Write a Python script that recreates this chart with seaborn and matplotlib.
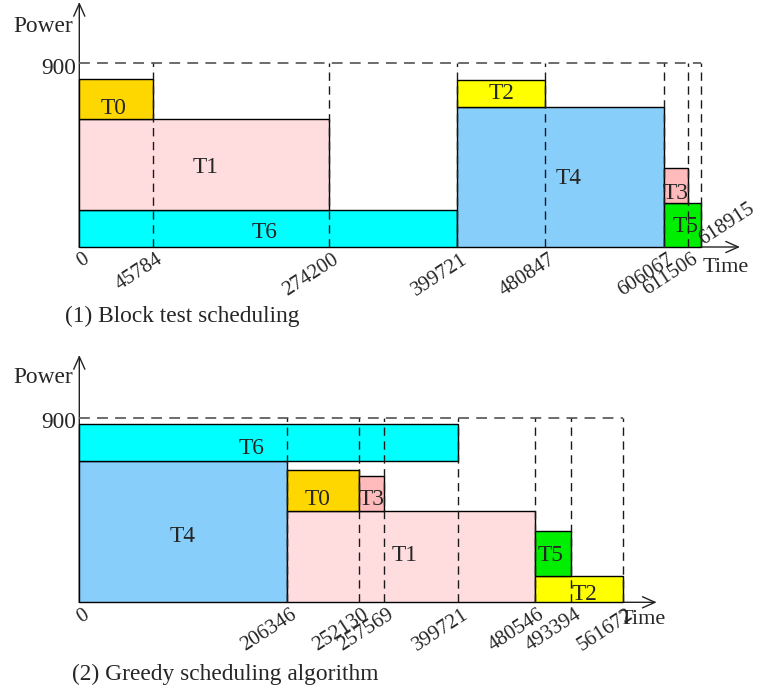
import numpy as np
import matplotlib
matplotlib.use("Agg")
import matplotlib.pyplot as plt
from matplotlib.transforms import offset_copy
import seaborn as sns

# ---------------- schedule data ----------------
power_limit = 900

# (1) block test scheduling
tasks_block = ["T6", "T1", "T0", "T4", "T2", "T5", "T3"]
start_block = [0, 0, 0, 399721, 399721, 606067, 606067]
end_block = [399721, 274200, 45784, 606067, 480847, 618915, 611506]
base_block = [0, 180, 625, 0, 687, 0, 217]
power_block = [180, 445, 200, 687, 130, 217, 170]
ticks_block = [0, 45784, 274200, 399721, 480847, 606067, 611506, 618915]

# (2) greedy scheduling algorithm
tasks_greedy = ["T4", "T6", "T1", "T0", "T3", "T2", "T5"]
start_greedy = [0, 0, 206346, 206346, 252130, 480546, 480546]
end_greedy = [206346, 399721, 480546, 252130, 257569, 561672, 493394]
base_greedy = [0, 687, 0, 445, 445, 0, 130]
power_greedy = [687, 180, 445, 200, 170, 130, 217]
ticks_greedy = [0, 206346, 252130, 257569, 399721, 480546, 493394, 561672]

# ---------------- styling ----------------
task_colors = {
    "T0": "#FFD700",
    "T1": "#FFDDDF",
    "T2": "#FFFF00",
    "T3": "#FFBBBB",
    "T4": "#87CEFA",
    "T5": "#00EE00",
    "T6": "#00FFFF",
}

sns.set_theme(style="white")
plt.rcParams["font.family"] = ["Liberation Serif", "DejaVu Serif"]

W, H = 757, 689
fig = plt.figure(figsize=(W / 100, H / 100), dpi=100)
fig.patch.set_facecolor("white")

BIG = 16.8
SMALL = 15.0

# schematic (piecewise) time axis: where each tick sits horizontally, in pixels
tick_px_block = [79.3, 152.7, 329.3, 457.3, 545.3, 663.7, 688.3, 700.7]
tick_px_greedy = [79.3, 286.7, 359.3, 383.7, 458.3, 534.7, 571.3, 623.0]

# label nudges in pixels (dx right, dy down)
nudge_block = {"T0": (-2, 7), "T1": (1.5, 1), "T6": (-4, 1.5), "T4": (8.5, 0),
               "T2": (0, -2), "T3": (0, 6), "T5": (3.5, 0)}
nudge_greedy = {"T6": (-17, 3), "T4": (0, 3), "T0": (-5, 7), "T3": (0, 4),
                "T1": (-6, -3), "T5": (-2.5, 0), "T2": (6, 3.5)}

DASH = (0, (6, 4))


def draw_panel(ax, tasks, start, end, base, power, ticks, tick_px,
               nudges, base_px, top_px, arrow_x_px, arrow_y_px, last_up):
    t_arr = np.asarray(ticks, float)
    p_arr = np.asarray(tick_px, float)

    def forward(t):
        return np.interp(t, t_arr, p_arr)

    def inverse(p):
        return np.interp(p, p_arr, t_arr)

    ax.set_xscale("function", functions=(forward, inverse))
    ax.set_xlim(ticks[0], ticks[-1])
    ax.set_ylim(0, power_limit)
    ax.set_axis_off()

    # axis arrows
    x_span = tick_px[-1] - tick_px[0]
    y_span = base_px - top_px
    arrow_kw = dict(arrowstyle="->,head_length=0.45,head_width=0.2",
                    mutation_scale=20, lw=1.0, color="#222222",
                    shrinkA=0, shrinkB=0)
    ax.annotate("", xy=((arrow_x_px - tick_px[0]) / x_span, 0),
                xytext=(0, 0), xycoords="axes fraction",
                textcoords="axes fraction", arrowprops=arrow_kw,
                annotation_clip=False, zorder=1)
    ax.annotate("", xy=(0, (base_px - arrow_y_px) / y_span),
                xytext=(0, 0), xycoords="axes fraction",
                textcoords="axes fraction", arrowprops=arrow_kw,
                annotation_clip=False, zorder=1)

    # task blocks
    widths = [e - s for s, e in zip(start, end)]
    bars = ax.bar(start, power, width=widths, bottom=base, align="edge",
                  color=[task_colors[t] for t in tasks], edgecolor="black",
                  linewidth=1.0, zorder=2)
    for patch in bars:
        patch.set_clip_on(False)

    # power limit and time markers
    ax.hlines(power_limit, ticks[0], ticks[-1], colors="#606060",
              linestyles=DASH, lw=1.3, zorder=3, clip_on=False)
    ax.vlines(ticks[1:], 0, power_limit, colors="#1a1a1a",
              linestyles=DASH, lw=1.0, zorder=3, clip_on=False)

    # task names, centred on each block
    for name, s, e, b, p in zip(tasks, start, end, base, power):
        cx = inverse((forward(s) + forward(e)) / 2)
        cy = b + p / 2
        dx, dy = nudges.get(name, (0, 0))
        tr = offset_copy(ax.transData, fig=fig, x=dx, y=-dy - 7.6, units="dots")
        ax.text(cx, cy, name, transform=tr, ha="center", va="baseline",
                fontsize=BIG, zorder=4)

    # power limit label
    tr = offset_copy(ax.transData, fig=fig, x=-3.5, y=-10.5, units="dots")
    ax.text(0, power_limit, str(power_limit), transform=tr, ha="right",
            va="baseline", fontsize=BIG, clip_on=False)

    # rotated time labels
    for i, t in enumerate(ticks):
        if last_up and i == len(ticks) - 1:
            tr = offset_copy(ax.transData, fig=fig, x=2, y=2, units="dots")
            ax.text(t, 0, str(t), transform=tr, ha="left", va="baseline",
                    rotation=33, rotation_mode="anchor", fontsize=SMALL,
                    clip_on=False)
        else:
            tr = offset_copy(ax.transData, fig=fig, x=3, y=-3, units="dots")
            ax.text(t, 0, str(t), transform=tr, ha="right", va="top",
                    rotation=33, rotation_mode="anchor", fontsize=SMALL,
                    clip_on=False)


def add_axes_px(left, right, base, top):
    return fig.add_axes([left / W, 1 - base / H, (right - left) / W,
                         (base - top) / H])


ax_block = add_axes_px(79.3, 700.7, 247.0, 63.3)
ax_greedy = add_axes_px(79.3, 623.0, 602.3, 417.7)

draw_panel(ax_block, tasks_block, start_block, end_block, base_block,
           power_block, ticks_block, tick_px_block, nudge_block,
           base_px=247.0, top_px=63.3, arrow_x_px=740.0, arrow_y_px=2.0,
           last_up=True)
draw_panel(ax_greedy, tasks_greedy, start_greedy, end_greedy, base_greedy,
           power_greedy, ticks_greedy, tick_px_greedy, nudge_greedy,
           base_px=602.3, top_px=417.7, arrow_x_px=656.7, arrow_y_px=355.0,
           last_up=False)

# axis names and captions
fig.text(13 / W, 1 - 31.7 / H, "Power", ha="left", va="baseline", fontsize=BIG)
fig.text(13 / W, 1 - 382.7 / H, "Power", ha="left", va="baseline", fontsize=BIG)
fig.text(703 / W, 1 - 271.7 / H, "Time", ha="left", va="baseline", fontsize=16)
fig.text(620 / W, 1 - 624.5 / H, "Time", ha="left", va="baseline", fontsize=16)
fig.text(65 / W, 1 - 321.7 / H, "(1) Block test scheduling", ha="left",
         va="baseline", fontsize=BIG)
fig.text(72 / W, 1 - 680 / H, "(2) Greedy scheduling algorithm", ha="left",
         va="baseline", fontsize=BIG)

fig.savefig("out.png", dpi=100, facecolor="white")
